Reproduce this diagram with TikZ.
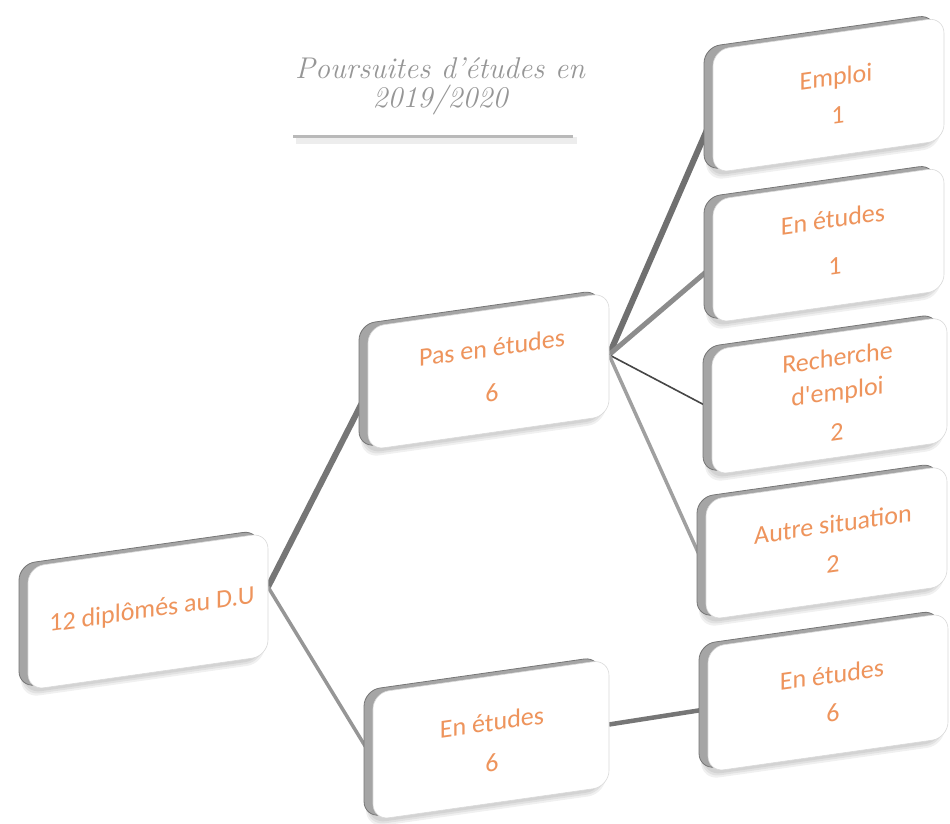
\documentclass[tikz,border=0pt]{standalone}
\usepackage{fontspec}
\newfontfamily\bodyfont{Carlito}
\pgfdeclarelayer{bg}
\pgfsetlayers{bg,main}
\definecolor{txtor}{RGB}{238,148,92}
\definecolor{titlegray}{RGB}{150,150,150}
\definecolor{edgegray}{RGB}{165,165,165}
\definecolor{edgedark}{RGB}{118,118,118}
\newcommand\pbox[8]{%
  \begin{scope}[shift={(#2,#3)}, yslant=0.142]
    \path[softshadow] (-7,3) rectangle ++(#4+4,#5+4);
    \path[softshadow] (-6,2) rectangle ++(#4+2,#5+3);
    \path[softshadow] (-5,1) rectangle ++(#4,#5+2);
    \path[edgefill] (-9,-4) rectangle ++(#4,#5);
    \path[face] (0,0) rectangle (#4,#5);
    \coordinate (#1-w) at (0,#6);
    \coordinate (#1-e) at (#4,#7);
    #8
  \end{scope}}
\begin{document}
\begin{tikzpicture}[x=1pt,y=-1pt,
  txt/.style={font=\bodyfont\fontsize{26}{30}\selectfont, text=txtor, transform shape,
    inner sep=0pt, text height=15pt, text depth=3pt},
  txtml/.style={font=\bodyfont\fontsize{26}{34}\selectfont, text=txtor, transform shape,
    inner sep=0pt, align=center},
  titletxt/.style={font=\itshape\fontsize{30}{34}\selectfont, text=titlegray, inner sep=0pt},
  softshadow/.style={fill=black, fill opacity=0.06, rounded corners=18pt},
  edgefill/.style={fill=edgegray, draw=edgedark, line width=0.8pt, rounded corners=16pt},
  face/.style={fill=white, draw=gray!30, line width=0.6pt, rounded corners=16pt},
  conn/.style={line cap=butt}]
\useasboundingbox (0,0) rectangle (950,824);
\begin{pgfonlayer}{bg}
  \fill[white] (0,0) rectangle (950,824);
\end{pgfonlayer}

% title
\node[titletxt] (t1) at (440,68) {Poursuites d’études en};
\node[titletxt] (t2) at (440,100) {2019/2020};
\coordinate (ul) at (293,137);
\coordinate (ur) at (573,137);
\coordinate (uls) at (296,141);
\coordinate (urs) at (577,141);
\draw[gray!14, line width=7pt] (uls) -- (urs);
\draw[gray!55, line width=3pt] (ul) -- (ur);

% boxes
\pbox{root}{28}{567}{240}{123}{62}{54}{%
  \node[txt] (root-t) at (124,62) {12 diplômés au D.U};}
\pbox{pas}{368}{327}{241}{123}{64}{62}{%
  \node[txt] (pas-t) at (124,41) {Pas en études};
  \node[txt] (pas-n) at (124,86) {6};}
\pbox{mid}{373}{693}{236}{127}{66}{65}{%
  \node[txt] (mid-t) at (119,49) {En études};
  \node[txt] (mid-n) at (119,89) {6};}
\pbox{emp}{713}{50}{231}{123}{66}{60}{%
  \node[txt] (emp-t) at (123,47) {Emploi};
  \node[txt] (emp-n) at (125,85) {1};}
\pbox{et1}{713}{200}{231}{123}{66}{60}{%
  \node[txt] (et1-t) at (120,39) {En études};
  \node[txt] (et1-n) at (122,86) {1};}
\pbox{rec}{712}{350}{235}{125}{59}{60}{%
  \node[txtml] (rec-t) at (125.5,44) {Recherche\\d'emploi};
  \node[txt] (rec-n) at (125,102) {2};}
\pbox{aut}{706}{500}{241}{120}{70}{60}{%
  \node[txt] (aut-t) at (127,45) {Autre situation};
  \node[txt] (aut-n) at (127,85) {2};}
\pbox{et6}{708}{647}{240}{125}{62}{60}{%
  \node[txt] (et6-t) at (124,48) {En études};
  \node[txt] (et6-n) at (125,86) {6};}

% connectors (behind boxes)
\begin{pgfonlayer}{bg}
  \draw[conn, line width=6pt, color={rgb,255:red,118;green,118;blue,118}] (root-e) -- (pas-w);
  \draw[conn, line width=3.5pt, color={rgb,255:red,150;green,150;blue,150}] (root-e) -- (mid-w);
  \draw[conn, line width=6pt, color={rgb,255:red,112;green,112;blue,112}] (pas-e) -- (emp-w);
  \draw[conn, line width=5pt, color={rgb,255:red,140;green,140;blue,140}] (pas-e) -- (et1-w);
  \draw[conn, line width=1.6pt, color={rgb,255:red,70;green,70;blue,70}] (pas-e) -- (rec-w);
  \draw[conn, line width=3.5pt, color={rgb,255:red,160;green,160;blue,160}] (pas-e) -- (aut-w);
  \draw[conn, line width=4.5pt, color={rgb,255:red,118;green,118;blue,118}] (mid-e) -- (et6-w);
\end{pgfonlayer}
\end{tikzpicture}
\end{document}
